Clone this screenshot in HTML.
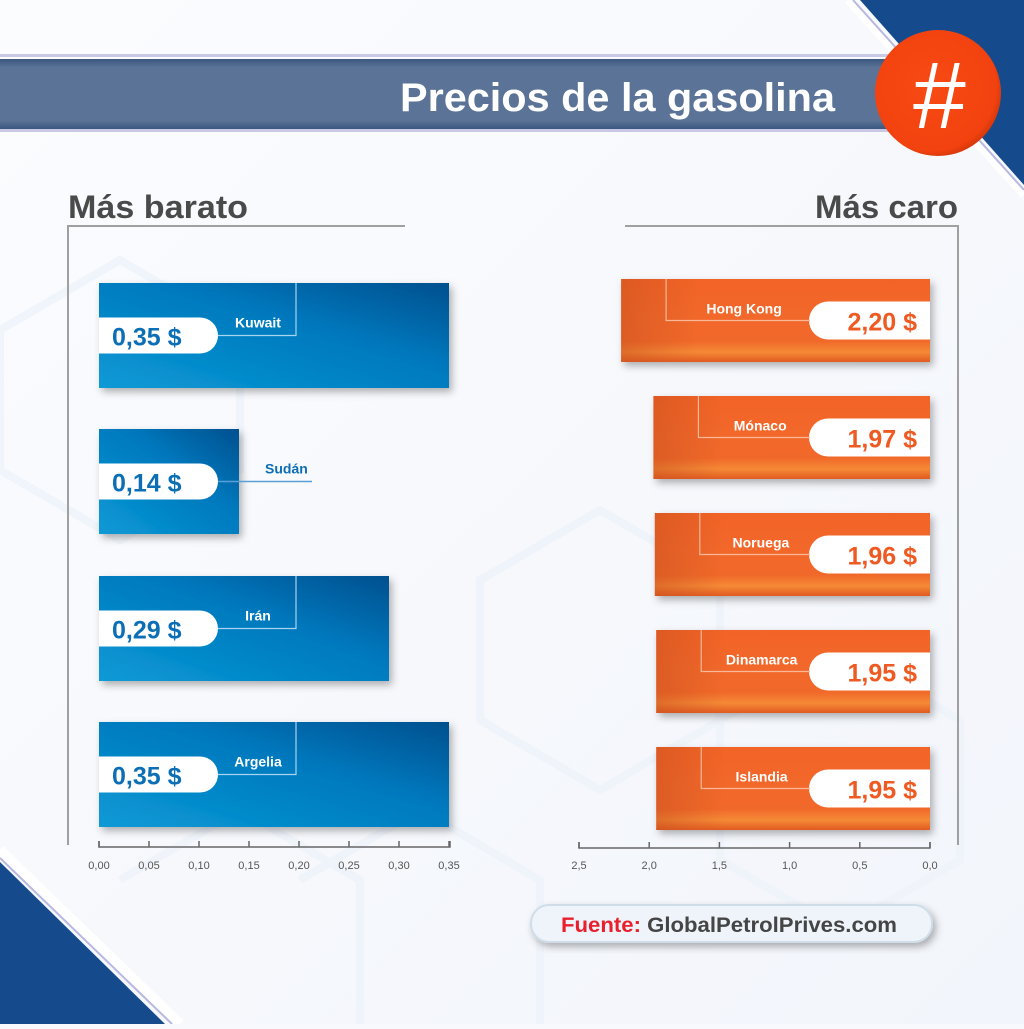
<!DOCTYPE html>
<html><head><meta charset="utf-8"><style>
body{margin:0;width:1024px;height:1024px;overflow:hidden;background:#f7f9fd;font-family:"Liberation Sans",sans-serif}
</style></head><body>
<svg id="c" width="1024" height="1024" viewBox="0 0 1024 1024" xmlns="http://www.w3.org/2000/svg">
<defs>
<linearGradient id="bg" x1="0" y1="0" x2="1" y2="1"><stop offset="0" stop-color="#fbfcfe"/><stop offset="1" stop-color="#f2f5fb"/></linearGradient>
<linearGradient id="blu" x1="0" y1="1" x2="1" y2="0"><stop offset="0" stop-color="#0a9ad6"/><stop offset="0.6" stop-color="#0078bd"/><stop offset="1" stop-color="#00508e"/></linearGradient>
<linearGradient id="org" x1="0" y1="0" x2="0" y2="1"><stop offset="0" stop-color="#f26428"/><stop offset="0.75" stop-color="#f1692a"/><stop offset="0.88" stop-color="#f58a36"/><stop offset="1" stop-color="#e15a22"/></linearGradient>
<linearGradient id="orgL" x1="0" y1="0" x2="1" y2="0"><stop offset="0" stop-color="#c8501e" stop-opacity="0.5"/><stop offset="0.25" stop-color="#c8501e" stop-opacity="0"/></linearGradient>
<linearGradient id="band" x1="0" y1="0" x2="0" y2="1"><stop offset="0" stop-color="#3b5680"/><stop offset="0.12" stop-color="#5a7396"/><stop offset="0.88" stop-color="#5a7396"/><stop offset="1" stop-color="#3b5680"/></linearGradient>
<radialGradient id="circ" cx="0.45" cy="0.45" r="0.6"><stop offset="0" stop-color="#f84a14"/><stop offset="0.85" stop-color="#f2420f"/><stop offset="1" stop-color="#c7330a"/></radialGradient>
<filter id="sh" x="-10%" y="-10%" width="130%" height="140%"><feDropShadow dx="3" dy="4" stdDeviation="4" flood-color="#000" flood-opacity="0.3"/></filter>
</defs>
<rect width="1024" height="1024" fill="url(#bg)"/>
<g stroke="#edf2fa" stroke-width="8" fill="none" opacity="0.7">
<path d="M0,330 L120,260 240,330 240,470 120,540 0,470Z"/>
<path d="M480,580 L600,510 720,580 720,720 600,790 480,720Z"/>
<path d="M120,880 L240,810 360,880 360,1024"/>
<path d="M720,720 L840,650 960,720 960,860 840,930 720,860Z"/>
<path d="M300,880 L420,810 540,880 540,1024"/>
</g>
<polygon points="860,0 1024,0 1024,185" fill="#154b8c"/>
<line x1="848" y1="0" x2="1024" y2="195" stroke="#fff" stroke-width="8"/>
<line x1="853" y1="0" x2="1024" y2="190" stroke="#b9b8e0" stroke-width="2"/>
<polygon points="0,862 0,1024 165,1024" fill="#154b8c"/>
<line x1="0" y1="850" x2="180" y2="1024" stroke="#fff" stroke-width="10"/>
<line x1="0" y1="858" x2="172" y2="1024" stroke="#b9b8e0" stroke-width="2"/>
<rect x="0" y="54" width="900" height="3" fill="#c9c9e6"/>
<rect x="0" y="59" width="900" height="70" fill="url(#band)"/>
<rect x="0" y="129" width="900" height="3" fill="#c9c9e6"/>
<text x="835" y="111" text-anchor="end" fill="#fff" font-size="40" font-weight="bold" textLength="435" lengthAdjust="spacingAndGlyphs">Precios de la gasolina</text>
<ellipse cx="938" cy="93" rx="63" ry="63" fill="url(#circ)"/>
<text x="938" y="128" text-anchor="middle" fill="#fff" font-size="95" font-style="italic" font-family="Liberation Sans">#</text>
<text x="68" y="218" fill="#4a4a4a" font-size="32" font-weight="bold" textLength="180" lengthAdjust="spacingAndGlyphs">Más barato</text>
<text x="958" y="218" text-anchor="end" fill="#4a4a4a" font-size="32" font-weight="bold" textLength="143" lengthAdjust="spacingAndGlyphs">Más caro</text>
<path d="M405,226 H68 V845" stroke="#a0a0a0" stroke-width="2" fill="none"/>
<path d="M625,226 H958 V845" stroke="#a0a0a0" stroke-width="2" fill="none"/>
<g id="left"></g><g id="right"></g>
<g>
<rect x="531" y="905" width="401" height="37" rx="18" fill="#eef4f9" stroke="#cfdde9" stroke-width="2" filter="url(#sh)"/>
<text x="561" y="932" font-size="21" font-weight="bold" fill="#e8202e" textLength="336" lengthAdjust="spacingAndGlyphs">Fuente: <tspan fill="#454545">GlobalPetrolPrives.com</tspan></text>
</g>
</svg>
<script>
const leftCountries=["Kuwait","Sudán","Irán","Argelia"];
const leftValues=[0.35,0.14,0.29,0.35];
const leftTicks=[0,0.05,0.10,0.15,0.20,0.25,0.30,0.35];
const rightCountries=["Hong Kong","Mónaco","Noruega","Dinamarca","Islandia"];
const rightValues=[2.20,1.97,1.96,1.95,1.95];
const rightTicks=[2.5,2.0,1.5,1.0,0.5,0.0];
const NS="http://www.w3.org/2000/svg";
function mk(p,t,a){const e=document.createElementNS(NS,t);for(const k in a)e.setAttribute(k,a[k]);p.appendChild(e);return e;}
const fmt=(v,d)=>v.toFixed(d).replace('.',',');
const lx=v=>99+v*1000;
const rx=v=>930-v*140.4;
const L=document.getElementById('left'),R=document.getElementById('right');
const lTops=[283,429,576,722];
leftValues.forEach((v,i)=>{
 const g=mk(L,'g',{});
 
 
 const y=lTops[i],h=105,w=lx(v)-lx(0),cy=y+h/2;
 mk(g,'rect',{x:lx(0),y:y,width:w,height:h,fill:'url(#blu)',filter:'url(#sh)'});
 mk(g,'path',{d:'M99,'+(cy-18)+' H200 a18,18 0 0 1 0,36 H99Z',fill:'#fff'});
 const t=mk(g,'text',{x:112,y:cy+10,'font-size':25,'font-weight':'bold',fill:'#0c6fb5'});t.textContent=fmt(v,2)+' $';
 const lab=mk(g,'text',{'font-size':14,'font-weight':'bold'});
 if(w>190){mk(g,'path',{d:'M218,'+cy+' H296 V'+y,stroke:'#a8d4f0','stroke-width':1.2,fill:'none'});
  lab.setAttribute('x',258);lab.setAttribute('y',cy-8);lab.setAttribute('text-anchor','middle');lab.setAttribute('fill','#fff');}
 else{mk(g,'line',{x1:218,y1:cy,x2:312,y2:cy,stroke:'#5aa0d6','stroke-width':1.5});
  lab.setAttribute('x',265);lab.setAttribute('y',cy-8);lab.setAttribute('fill','#0c6fb5');}
 lab.textContent=leftCountries[i];
});
mk(L,'path',{d:'M99,841 V847 H450 V841',stroke:'#666','stroke-width':1.5,fill:'none'});
leftTicks.forEach(t=>{mk(L,'line',{x1:lx(t),y1:841,x2:lx(t),y2:847,stroke:'#666','stroke-width':1.5});
 const e=mk(L,'text',{x:lx(t),y:869,'text-anchor':'middle','font-size':11,fill:'#555'});e.textContent=fmt(t,2);});
const rTops=[279,396,513,630,747];
rightValues.forEach((v,i)=>{
 const g=mk(R,'g',{});
 
 
 const y=rTops[i],h=83,cy=y+h/2;
 mk(g,'rect',{x:rx(v),y:y,width:930-rx(v),height:h,fill:'url(#org)',filter:'url(#sh)'});
 mk(g,'rect',{x:rx(v),y:y,width:930-rx(v),height:h,fill:'url(#orgL)'});
 mk(g,'path',{d:'M930,'+(cy-19)+' H828 a19,19 0 0 0 0,38 H930Z',fill:'#fff'});
 const t=mk(g,'text',{x:917,y:cy+10,'text-anchor':'end','font-size':25,'font-weight':'bold',fill:'#ee5a22'});t.textContent=fmt(v,2)+' $';
 const lxp=rx(v)+45;
 mk(g,'path',{d:'M810,'+cy+' H'+lxp+' V'+y,stroke:'#f8b899','stroke-width':1.2,fill:'none'});
 const lab=mk(g,'text',{x:(lxp+810)/2+6,y:cy-7,'text-anchor':'middle','font-size':14,'font-weight':'bold',fill:'#fff'});lab.textContent=rightCountries[i];
});
mk(R,'path',{d:'M579,842 V848 H930 V842',stroke:'#666','stroke-width':1.5,fill:'none'});
rightTicks.forEach(t=>{mk(R,'line',{x1:rx(t),y1:842,x2:rx(t),y2:848,stroke:'#666','stroke-width':1.5});
 const e=mk(R,'text',{x:rx(t),y:869,'text-anchor':'middle','font-size':11,fill:'#555'});e.textContent=fmt(t,1);});
</script>
</body></html>
